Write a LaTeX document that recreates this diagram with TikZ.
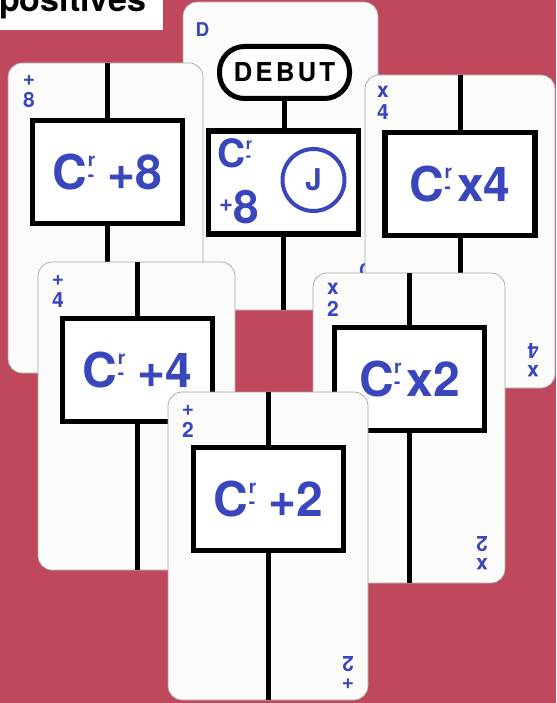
\documentclass[tikz,border=0pt]{standalone}
\usepackage{fontspec}
\setmainfont{TeX Gyre Heros}
\definecolor{bgred}{RGB}{192,72,92}
\definecolor{bblue}{RGB}{58,70,188}
\definecolor{cardw}{RGB}{251,251,249}
\newcommand\fsz[1]{\fontsize{#1}{#1}\selectfont}
\newcommand\crsym[1]{C\kern0.5pt\rlap{\raisebox{0.47em}{\fsz{#1}r}}\raisebox{0.17em}{\fsz{#1}-}}
\tikzset{
 cardbox/.style={draw=black!35, line width=0.7pt, fill=cardw, rounded corners=14pt, inner sep=0pt},
 instr/.style={draw=black, line width=5.5pt, fill=white, inner sep=0pt, minimum width=150pt, minimum height=103pt, text=bblue, font=\bfseries\fsz{48}},
 term/.style={draw=black, line width=5pt, fill=white, rounded corners=25pt, minimum width=130pt, minimum height=52pt, inner sep=0pt, font=\bfseries\fsz{26}},
 flow/.style={line width=5pt, draw=black},
 corner/.style={text=bblue, font=\bfseries\fontsize{21}{22}\selectfont, align=center, inner sep=0pt},
 blue text/.style={anchor=base west, inner sep=0pt, text=bblue},
}
\begin{document}
\begin{tikzpicture}[x=1pt,y=-1pt]
\useasboundingbox (0,0) rectangle (556,703);
\clip (0,0) rectangle (556,703);
\fill[bgred] (0,0) rectangle (556,703);
% title tag
\node[fill=white, anchor=north west, minimum width=163pt, minimum height=30pt, inner sep=0pt] (tag) at (0,0) {};
\node[anchor=base west, inner sep=0pt, font=\bfseries\fsz{34}] (tagtext) at (-1,12) {positives};
% card D
\node[cardbox, minimum width=195pt, minimum height=308pt] (cD) at (280.5,156) {};
\node[corner, font=\bfseries\fsz{19}] (lD) at (202.5,29.5) {D};
\node[corner, font=\bfseries\fsz{19}, rotate=180] (lDr) at (366,270) {D};
\node[term] (debut) at (284.5,72.5) {D\kern3pt E\kern3pt B\kern3pt U\kern3pt T};
\node[instr] (bD) at (283.5,182.5) {};
\draw[flow] (debut.south) -- (debut.south |- bD.north);
\draw[flow] (bD.south) -- (bD.south |- cD.south);
\node[blue text, font=\bfseries\fsz{39}] (dC) at (217,168) {\crsym{16}};
\node[blue text, font=\bfseries\fsz{46}] (d8) at (219,223) {\raisebox{0.25em}{\fsz{24}+}8};
\node[draw=bblue, circle, line width=4pt, minimum size=62pt, inner sep=0pt, text=bblue, font=\bfseries\fsz{30}] (jc) at (313.5,180) {J};
% card +8
\node[cardbox, minimum width=195pt, minimum height=310pt] (c8) at (105.5,218) {};
\node[corner] (l8) at (29,92) {+\\8};
\node[instr] (b8) at (107.5,172) {\crsym{19}\ +8};
\draw[flow] (b8.north |- c8.north) -- (b8.north);
\draw[flow] (b8.south) -- (b8.south |- c8.south);
% card x4
\node[cardbox, minimum width=190pt, minimum height=313pt] (cx4) at (460,231.5) {};
\node[corner] (lx4) at (383,103) {x\\4};
\node[corner, rotate=180] (lx4r) at (533,360) {x\\4};
\node[instr] (bx4) at (460,184) {\crsym{19}\kern6pt x4};
\draw[flow] (bx4.north |- cx4.north) -- (bx4.north);
\draw[flow] (bx4.south) -- (bx4.south |- cx4.south);
% card +4
\node[cardbox, minimum width=197pt, minimum height=308pt] (c4) at (136.5,416) {};
\node[corner] (l4) at (58,291) {+\\4};
\node[instr] (b4) at (137.5,370) {\crsym{19}\ +4};
\draw[flow] (b4.north |- c4.north) -- (b4.north);
\draw[flow] (b4.south) -- (b4.south |- c4.south);
% card x2
\node[cardbox, minimum width=192pt, minimum height=310pt] (cx2) at (409,428) {};
\node[corner] (lx2) at (333,300) {x\\2};
\node[corner, rotate=180] (lx2r) at (482,553) {x\\2};
\node[instr] (bx2) at (409.5,379) {\crsym{19}\kern6pt x2};
\draw[flow] (bx2.north |- cx2.north) -- (bx2.north);
\draw[flow] (bx2.south) -- (bx2.south |- cx2.south);
% card +2
\node[cardbox, minimum width=200pt, minimum height=308pt] (c2) at (268,546) {};
\node[corner] (l2) at (188,421) {+\\2};
\node[corner, rotate=180] (l2r) at (348,673) {+\\2};
\node[instr] (b2) at (268.5,499) {\crsym{19}\ +2};
\draw[flow] (b2.north |- c2.north) -- (b2.north);
\draw[flow] (b2.south) -- (b2.south |- c2.south);
\end{tikzpicture}
\end{document}
